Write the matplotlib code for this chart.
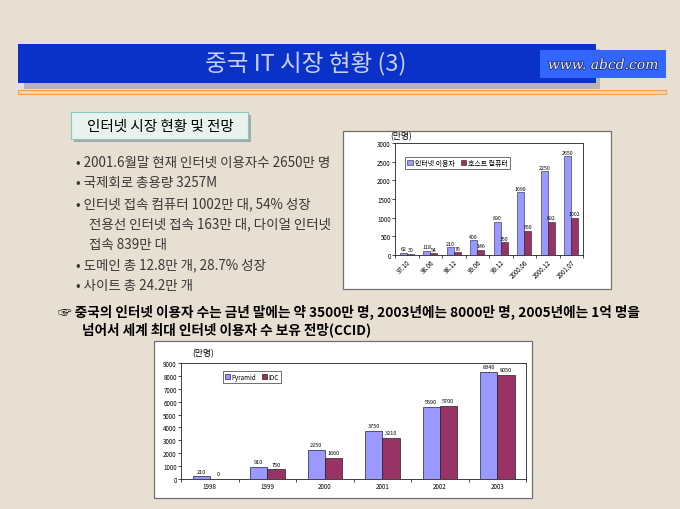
import numpy as np
import matplotlib.pyplot as plt
from matplotlib.patches import Rectangle
import matplotlib.patheffects as pe

plt.rcParams['font.family'] = ['Noto Sans CJK KR', 'DejaVu Sans']

W, H = 680, 510

# 상단 차트: 인터넷 이용자 / 호스트 컴퓨터 (만)
periods = ['97.10', '98.06', '98.12', '99.06', '99.12', '2000.06', '2000.12', '2001.07']
internet_users = [62, 118, 210, 400, 890, 1690, 2250, 2650]
host_computers = [30, 54, 76, 146, 350, 650, 892, 1002]
top_series = ['인터넷 이용자', '호스트 컴퓨터']
top_yticks = [0, 500, 1000, 1500, 2000, 2500, 3000]

# 하단 차트: 이용자 전망 (만명)
years = ['1998', '1999', '2000', '2001', '2002', '2003']
pyramid = [210, 910, 2250, 3750, 5590, 8340]
idc = [0, 750, 1660, 3210, 5700, 8050]
bottom_series = ['Pyramid', 'IDC']
bottom_yticks = [0, 1000, 2000, 3000, 4000, 5000, 6000, 7000, 8000, 9000]

title = '중국 IT 시장 현황 (3)'
site = 'www. abcd.com'
subtitle = '인터넷 시장 현황 및 전망'
bullets = [
    ('• 2001.6월말 현재 인터넷 이용자수 2650만 명', 76),
    ('• 국제회로 총용량 3257M', 76),
    ('• 인터넷 접속 컴퓨터 1002만 대, 54% 성장', 76),
    ('전용선 인터넷 접속 163만 대, 다이얼 인터넷', 89),
    ('접속 839만 대', 89),
    ('• 도메인 총 12.8만 개, 28.7% 성장', 76),
    ('• 사이트 총 24.2만 개', 76),
]
note = ['☞ 중국의 인터넷 이용자 수는 금년 말에는 약 3500만 명, 2003년에는 8000만 명, 2005년에는 1억 명을',
        '넘어서 세계 최대 인터넷 이용자 수 보유 전망(CCID)']

BLUE = '#9999ff'
PLUM = '#993366'


def px(x, y, w, h):
    # 픽셀 좌표 -> figure 비율
    return [x / W, 1 - (y + h) / H, w / W, h / H]


fig = plt.figure(figsize=(6.8, 5.1), dpi=100)
fig.patch.set_facecolor('#e7dfd1')

bg = fig.add_axes([0, 0, 1, 1])
bg.set_xlim(0, W)
bg.set_ylim(H, 0)
bg.axis('off')

# 제목 바
bg.add_patch(Rectangle((24, 50), 576, 40, fc='#b9b5ad', ec='none'))
bg.add_patch(Rectangle((18, 45), 578, 39, fc='#0a32c8', ec='none'))
bg.add_patch(Rectangle((18, 91), 648, 4, fc='#fcd2a4', ec='#f0a050', lw=0.8))
bg.add_patch(Rectangle((540, 51), 126, 28, fc='#3366ff', ec='none'))
bg.text(306, 64, title, fontsize=17, color='#c8d0f0', ha='center', va='center', weight='light')
t = bg.text(603, 66, site, fontsize=10, style='italic', color='#e8ecff',
            ha='center', va='center', family=['DejaVu Serif'])
t.set_path_effects([pe.withStroke(linewidth=1.2, foreground='#203070')])

# 소제목 상자
bg.add_patch(Rectangle((74, 116), 177, 27, fc='#a8a8a8', ec='none'))
bg.add_patch(Rectangle((71, 113), 177, 27, fc='#e8f2ee', ec='#88c8c0', lw=0.8))
bg.text(160, 127, subtitle, fontsize=10.5, color='black', ha='center', va='center')

# 본문
for i, (line, x) in enumerate(bullets):
    bg.text(x, 163 + 20.5 * i, line, fontsize=9.7, color='#383838', va='center')
bg.text(58, 312, note[0], fontsize=9.8, color='black', va='center', weight='bold')
bg.text(82, 330, note[1], fontsize=9.8, color='black', va='center', weight='bold')

# 차트 상자
bg.add_patch(Rectangle((343, 132), 268, 158, fc='white', ec='#707070', lw=0.9))
bg.add_patch(Rectangle((154, 342), 378, 157, fc='white', ec='#707070', lw=0.9))


def style_axes(ax, n, yticks, labels, rot):
    ax.set_xlim(-0.5, n - 0.5)
    ax.set_ylim(yticks[0], yticks[-1])
    ax.set_yticks(yticks)
    ax.set_xticks(np.arange(n))
    ax.set_xticklabels(labels)
    ax.set_xticks(np.arange(n + 1) - 0.5, minor=True)
    ax.tick_params(axis='x', which='major', length=0, labelsize=4.5, pad=2)
    ax.tick_params(axis='x', which='minor', length=2, width=0.5)
    ax.tick_params(axis='y', length=2, width=0.5, labelsize=4.5, pad=1)
    if rot:
        plt.setp(ax.get_xticklabels(), rotation=45, ha='right', rotation_mode='anchor')
    for s in ax.spines.values():
        s.set_linewidth(0.6)
        s.set_color('#202020')


# 상단 차트
ax1 = fig.add_axes(px(395, 144, 188, 112))
x1 = np.arange(len(periods))
b1 = ax1.bar(x1 - 0.15, internet_users, 0.3, color=BLUE, ec='#202040', lw=0.4, label=top_series[0])
b2 = ax1.bar(x1 + 0.15, host_computers, 0.3, color=PLUM, ec='#202020', lw=0.4, label=top_series[1])
ax1.bar_label(b1, fontsize=3.8, padding=1)
ax1.bar_label(b2, fontsize=3.8, padding=1)
style_axes(ax1, len(periods), top_yticks, periods, True)
ax1.legend(loc='upper left', bbox_to_anchor=(405 / W, 1 - 158 / H), bbox_transform=fig.transFigure,
           ncol=2, fontsize=5, frameon=True, fancybox=False, edgecolor='black',
           handlelength=0.8, handleheight=0.8, handletextpad=0.3, columnspacing=0.9,
           borderpad=0.3, borderaxespad=0).get_frame().set_linewidth(0.5)
bg.text(401, 137, '(만명)', fontsize=6.3, ha='center', va='center')

# 하단 차트
ax2 = fig.add_axes(px(181, 364, 345, 116))
x2 = np.arange(len(years))
c1 = ax2.bar(x2 - 0.15, pyramid, 0.3, color=BLUE, ec='#202040', lw=0.5, label=bottom_series[0])
c2 = ax2.bar(x2 + 0.15, idc, 0.3, color=PLUM, ec='#202020', lw=0.5, label=bottom_series[1])
ax2.bar_label(c1, fontsize=4, padding=2)
ax2.bar_label(c2, fontsize=4, padding=2)
style_axes(ax2, len(years), bottom_yticks, years, False)
ax2.legend(loc='upper left', bbox_to_anchor=(223 / W, 1 - 372 / H), bbox_transform=fig.transFigure,
           ncol=2, fontsize=4.5, frameon=True, fancybox=False, edgecolor='black',
           handlelength=0.8, handleheight=0.8, handletextpad=0.3, columnspacing=0.8,
           borderpad=0.3, borderaxespad=0).get_frame().set_linewidth(0.5)
bg.text(203, 354, '(만명)', fontsize=6.3, ha='center', va='center')

fig.savefig('out.png', dpi=100, facecolor=fig.get_facecolor())
